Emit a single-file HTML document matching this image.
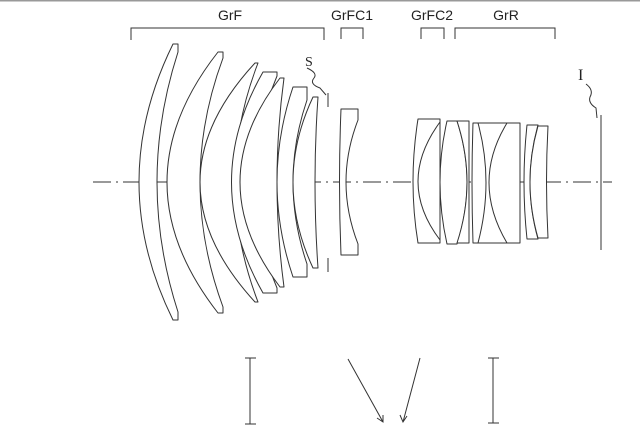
<!DOCTYPE html>
<html><head><style>
body{margin:0;background:#fff}
svg{display:block}
text{font-family:"Liberation Sans",sans-serif;font-size:14px;fill:#222}
</style></head><body>
<svg width="640" height="432" viewBox="0 0 640 432" xmlns="http://www.w3.org/2000/svg">
<rect x="0" y="0" width="640" height="1.5" fill="#999"/>
<g stroke="#333" stroke-width="1" fill="none">
<line x1="93" y1="182" x2="612" y2="182" stroke-dasharray="18,5,2,5"/>
<path d="M131,40 V28 H324 V40"/>
<path d="M341,39 V28 H363 V39"/>
<path d="M421,39 V28 H444 V39"/>
<path d="M455,39 V28 H555 V39"/>
</g>
<text x="230" y="20" text-anchor="middle">GrF</text>
<text x="352" y="20" text-anchor="middle">GrFC1</text>
<text x="432" y="20" text-anchor="middle">GrFC2</text>
<text x="506" y="20" text-anchor="middle">GrR</text>
<g stroke="#333" stroke-width="1" fill="#fff" stroke-linejoin="round">
<path d="M173,44 L178,44 L178,52 Q136,182 178,312 L178,320 L173,320 Q105,182 173,44 Z"/>
<path d="M218,52 L223,52 L223,58 Q177,182 223,307 L223,313 L218,313 Q116,182 218,52 Z"/>
<path d="M255,63 L258,63 Q212,182 258,302 L255,302 Q145,182 255,63 Z"/>
<path d="M263,72 L277,72 L277,76 Q233,182 277,288 L277,293 L263,293 Q200,182 263,72 Z"/>
<path d="M280,78 L284,78 Q270,182 284,287 L280,287 Q200,182 280,78 Z"/>
<path d="M293,87 L307,87 L307,100 Q279,182 307,264 L307,277 L293,277 Q261,182 293,87 Z"/>
<path d="M313,97 L318,97 Q312,182 318,268 L313,268 Q273,182 313,97 Z"/>
<path d="M341,109 L358,109 L358,120 Q334,182 358,244 L358,255 L341,255 Q338,182 341,109 Z"/>
<path d="M418,119 L440,119 L440,243 L418,243 Q408,182 418,119 Z"/>
<path d="M440,122 Q396,182 440,240" fill="none"/>
<path d="M447,121 L457,121 Q477,182 457,244 L447,244 Q433,182 447,121 Z"/>
<path d="M457,121 L469,121 L469,243 L457,243 Q477,182 457,121 Z"/>
<path d="M473,123 L520,123 L520,243 L473,243 Q471,182 473,123 Z"/>
<path d="M478,123 Q494,182 478,243" fill="none"/>
<path d="M507,123 Q471,182 507,243" fill="none"/>
<path d="M527,125 L538,125 Q522,182 538,239 L527,239 Q521,182 527,125 Z"/>
<path d="M538,126 L548,126 Q545,182 548,238 L538,238 Q522,182 538,126 Z"/>
</g>
<g stroke="#333" stroke-width="1" fill="none">
<line x1="328" y1="93" x2="328" y2="107"/>
<line x1="328" y1="258" x2="328" y2="272"/>
<path d="M307,68 Q318,73 314,78 Q309,84 320,88 L326,95"/>
<line x1="601" y1="115" x2="601" y2="250"/>
<path d="M586,84 Q594,90 590,97 Q588,103 596,108 L597,118"/>
<path d="M245,358 H256 M250,358 V424 M245,424 H256"/>
<path d="M488,358 H499 M493,358 V423 M488,423 H499"/>
<path d="M348,359 L383,422 M377,418 L383,422 L383,415"/>
<path d="M420,358 L403,422 M400,415 L403,422 L407,416"/>
</g>
<text x="305" y="66" style="font-family:'Liberation Serif',serif;font-size:14px">S</text>
<text x="578" y="80" style="font-family:'Liberation Serif',serif;font-size:16px">I</text>
</svg>
</body></html>
